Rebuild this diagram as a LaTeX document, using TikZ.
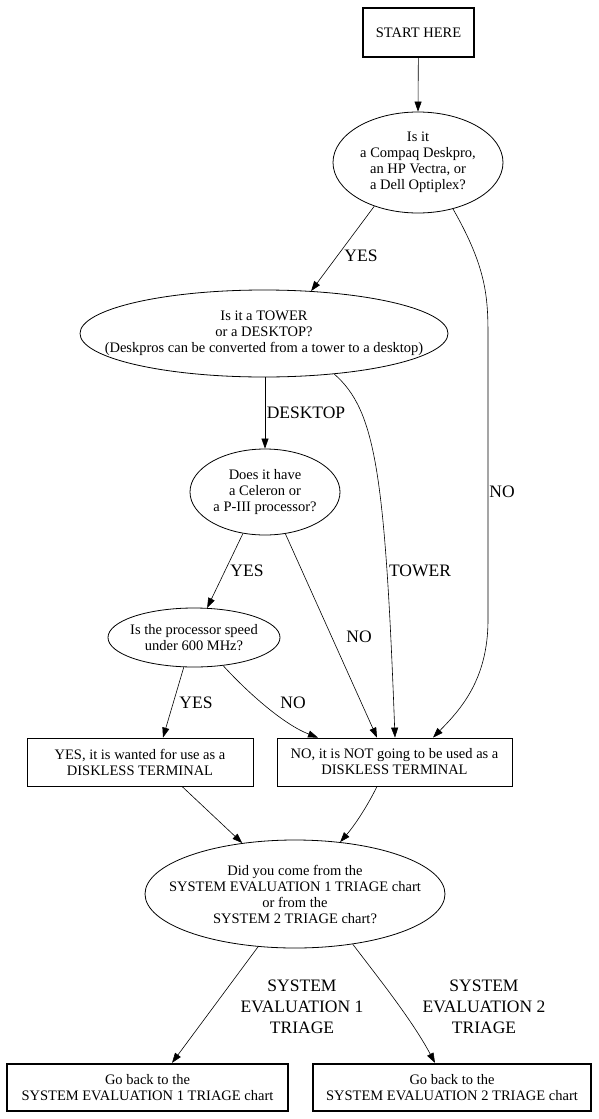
\documentclass[tikz,border=0pt]{standalone}
\usepackage{fontspec}
\setmainfont{Liberation Serif}
\usetikzlibrary{arrows.meta,shapes.geometric}
\begin{document}
\begin{tikzpicture}[x=1pt,y=-1pt,
  every node/.style={font=\fontsize{14.5}{16}\selectfont, align=center, inner sep=0pt},
  bx/.style={draw, rectangle, line width=0.8pt},
  thickbx/.style={draw, rectangle, line width=2.2pt},
  ell/.style={draw, ellipse, line width=0.8pt},
  lbl/.style={font=\fontsize{17.5}{21}\selectfont},
  edge/.style={draw, line width=0.6pt, -{Triangle[length=10pt,width=7pt]}}]
\useasboundingbox (0,0) rectangle (599,1119);
% nodes
\node[thickbx, minimum width=111, minimum height=49] (start) at (418.5,32.5) {START HERE};
\node[ell, minimum width=170, minimum height=101] (e1) at (418,162.5) {};
\node (e1t) at (e1) {Is it\\a Compaq Deskpro,\\an HP Vectra, or\\a Dell Optiplex?};
\node[ell, minimum width=368, minimum height=87] (e2) at (264,333.5) {};
\node (e2t) at (e2) {Is it a TOWER\\or a DESKTOP?\\(Deskpros can be converted from a tower to a desktop)};
\node[ell, minimum width=150, minimum height=86] (e3) at (265,492) {};
\node (e3t) at (e3) {Does it have\\a Celeron or\\a P-III processor?};
\node[ell, minimum width=172, minimum height=59] (e4) at (194,637.5) {};
\node (e4t) at (e4) {Is the processor speed\\under 600 MHz?};
\node[bx, minimum width=226, minimum height=48] (byes) at (140,762) {YES, it is wanted for use as a\\DISKLESS TERMINAL};
\node[bx, minimum width=235, minimum height=48] (bno) at (394.5,762) {NO, it is NOT going to be used as a\\DISKLESS TERMINAL};
\node[ell, minimum width=300, minimum height=108] (e5) at (295,894) {};
\node (e5t) at (e5) {Did you come from the\\SYSTEM EVALUATION 1 TRIAGE chart\\or from the\\SYSTEM 2 TRIAGE chart?};
\node[thickbx, minimum width=281, minimum height=47] (s1) at (147.5,1087.5) {Go back to the\\SYSTEM EVALUATION 1 TRIAGE chart};
\node[thickbx, minimum width=278, minimum height=47] (s2) at (452,1087.5) {Go back to the\\SYSTEM EVALUATION 2 TRIAGE chart};

% connectors
\path[edge] (start) -- (e1.north);
\path[edge] (e1.-135) -- (e2.42.5);
\path[edge] (e1.-53) .. controls (488,270) and (488,300) .. (488,340) -- (488,620) .. controls (488,680) and (460,710) .. ([xshift=38.5pt]bno.north);
\path[edge] (e2.south -| e3.north) -- (e3.north);
\path[edge] (e2.-30.3) .. controls (375,410) and (385,470) .. ([xshift=0.5pt]bno.north);
\path[edge] (e3.-118) -- (e4.66);
\path[edge] (e3.-64) -- ([xshift=-17.5pt]bno.north);
\path[edge] (e4.-109) -- ([xshift=23pt]byes.north);
\path[edge] (e4.-44) .. controls (250,695) and (285,725) .. ([xshift=-76.5pt]bno.north);
\path[edge] ([xshift=42pt]byes.south) -- (e5.136);
\path[edge] ([xshift=-17.5pt]bno.south) .. controls (368,805) and (355,825) .. (e5.49);
\path[edge] (e5.-125) -- ([xshift=24.5pt]s1.north);
\path[edge] (e5.-41) .. controls (380,980) and (412,1020) .. ([xshift=-17pt]s2.north);

% labels
\node[lbl] (l1) at (361,256) {YES};
\node[lbl] (l2) at (502,492) {NO};
\node[lbl] (l3) at (306,413) {DESKTOP};
\node[lbl] (l4) at (420,571) {TOWER};
\node[lbl] (l5) at (247,571) {YES};
\node[lbl] (l6) at (359,637) {NO};
\node[lbl] (l7) at (196,703) {YES};
\node[lbl] (l8) at (293,703) {NO};
\node[lbl] (l9) at (302,1007) {SYSTEM\\EVALUATION 1\\TRIAGE};
\node[lbl] (l10) at (484,1007) {SYSTEM\\EVALUATION 2\\TRIAGE};
\end{tikzpicture}
\end{document}
